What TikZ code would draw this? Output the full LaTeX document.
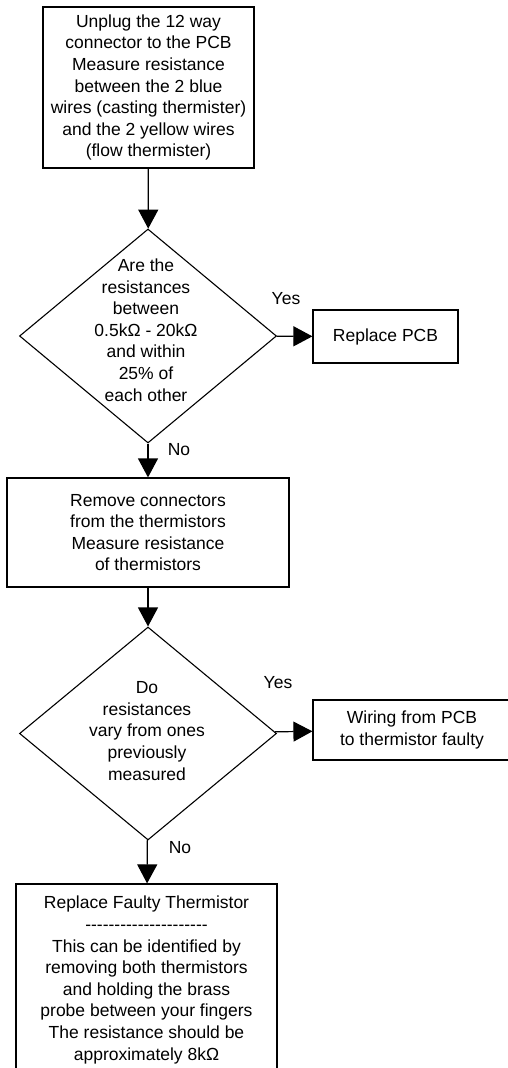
\documentclass[tikz,border=0pt]{standalone}
\usepackage{fontspec}
\setmainfont{Liberation Sans}[Ligatures=TeXOff]
\usetikzlibrary{shapes.geometric,arrows.meta}

\begin{document}
\begin{tikzpicture}[x=1pt,y=-1pt,
	every node/.style={font=\fontsize{17.5}{21.6}\selectfont},
	box/.style={draw, line width=1.2pt, align=center, inner sep=0pt},
	decision/.style={draw, diamond, line width=1.1pt, inner sep=0pt},
	txt/.style={align=center, inner sep=0pt},
	arr/.style={line width=1.2pt, -{Triangle[length=19pt,width=20pt]}}]
	\useasboundingbox (0,0) rectangle (507,1068);
	
	% Schritte
	\node[box, minimum width=211pt, minimum height=161pt] (unplug) at (148.5,87.5)
	{Unplug the 12 way\\connector to the PCB\\Measure resistance\\between the 2 blue\\wires (casting thermister)\\and the 2 yellow wires\\(flow thermister)};
	
	\node[box, minimum width=282pt, minimum height=109pt] (remove) at (148,532.5)
	{Remove connectors\\from the thermistors\\Measure resistance\\of thermistors};
	
	\node[box, minimum width=145pt, minimum height=53pt] (pcb) at (385.5,336.5) {Replace PCB};
	
	\node[box, minimum width=198pt, minimum height=60pt] (wiring) at (412,730)
	{Wiring from PCB\\to thermistor faulty};
	
	\node[box, minimum width=261pt, minimum height=192pt] (faulty) at (146.5,980)
	{Replace Faulty Thermistor\\---------------------\\This can be identified by\\removing both thermistors\\and holding the brass\\probe between your fingers\\The resistance should be\\approximately 8kΩ};
	
	% Abfragen
	\node[decision, minimum width=257pt, minimum height=214pt] (q1) at (148,336) {};
	\node[txt] (q1txt) at (146,330)
	{Are the\\resistances\\between\\0.5kΩ - 20kΩ\\and within\\25\% of\\each other};
	
	\node[decision, minimum width=257pt, minimum height=213pt] (q2) at (148,733.5) {};
	\node[txt] (q2txt) at (147,731)
	{Do\\resistances\\vary from ones\\previously\\measured};
	
	% Pfeile
	\draw[arr] (unplug) -- (q1);
	\draw[arr] (q1) -- (remove);
	\draw[arr] (q1) -- (pcb);
	\draw[arr] (remove) -- (q2);
	\draw[arr] (q2) -- (wiring);
	\draw[arr] (q2) -- (faulty);
	
	% Beschriftungen
	\node (yes1) at (286,299) {Yes};
	\node (no1) at (179,450) {No};
	\node (yes2) at (278,683) {Yes};
	\node (no2) at (180,848) {No};
	
\end{tikzpicture}
\end{document}
